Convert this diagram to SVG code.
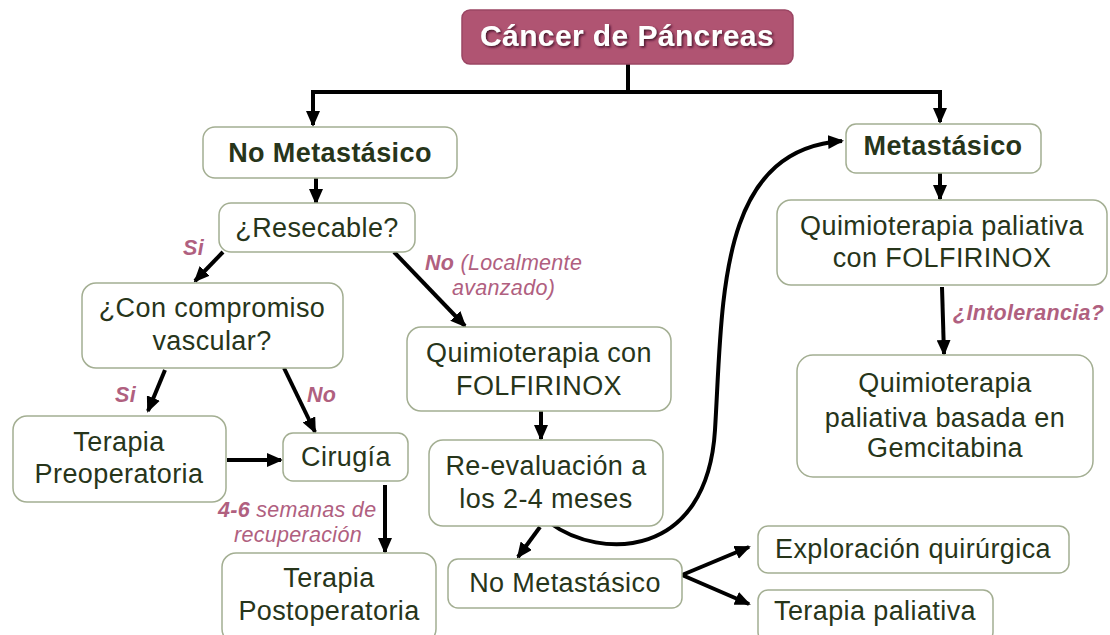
<svg xmlns="http://www.w3.org/2000/svg" width="1110" height="635" viewBox="0 0 1110 635">
<defs>
<marker id="ah" markerUnits="userSpaceOnUse" markerWidth="16" markerHeight="14" viewBox="0 0 16 14" refX="14" refY="7" orient="auto">
<path d="M0,0 L16,7 L0,14 Z" fill="#000"/>
</marker>
<filter id="sh" x="-10%" y="-20%" width="120%" height="150%">
<feDropShadow dx="1.5" dy="1.5" stdDeviation="0.8" flood-color="#3a1020" flood-opacity="0.9"/>
</filter>
<style>
.box{fill:#fff;stroke:#a3ae92;stroke-width:1.5}
.t{font-family:"Liberation Sans",Arial,sans-serif;font-size:27px;fill:#27351a;text-anchor:middle;letter-spacing:0.4px}
.b{font-weight:bold}
.lbl{font-family:"Liberation Sans",Arial,sans-serif;font-size:21.5px;fill:#b0607f;font-style:italic;letter-spacing:0.3px}
.bl{font-weight:bold}
.c{fill:none;stroke:#000;stroke-width:4}
.a{fill:none;stroke:#000;stroke-width:4;marker-end:url(#ah)}
</style>
</defs>
<rect width="1110" height="635" fill="#fff"/>

<g id="connectors">
<path class="c" d="M628,64 V92 M311,92 H942"/>
<path class="a" d="M313,92 V125"/>
<path class="a" d="M940,92 V122"/>
<path class="a" d="M316,178 V203"/>
<path class="a" d="M223,252 L195,281"/>
<path class="a" d="M394,252 L465,326"/>
<path class="a" d="M165,370 L148,411"/>
<path class="a" d="M284,368 L315,432"/>
<path class="a" d="M227,460 H281"/>
<path class="a" d="M385,485 V552"/>
<path class="a" d="M541,411 V439"/>
<path class="a" d="M540,527 L518,557"/>
<path class="a" d="M550,523 C600,560 707,560 715,430 S717,150 842,141"/>
<path class="a" d="M682,575 L749,547"/>
<path class="a" d="M682,575 L749,604"/>
<path class="a" d="M940,173 V199"/>
<path class="a" d="M942,287 L944,354"/>
</g>

<g id="labels">
<text class="lbl bl" x="183" y="255">Si</text>
<text class="lbl" x="425" y="270"><tspan class="bl">No</tspan> (Localmente</text>
<text class="lbl" x="452" y="295">avanzado)</text>
<text class="lbl bl" x="115" y="402">Si</text>
<text class="lbl bl" x="307" y="402">No</text>
<text class="lbl" x="218" y="517"><tspan class="bl">4-6</tspan> semanas de</text>
<text class="lbl" x="234" y="542">recuperación</text>
<text class="lbl bl" x="953" y="320">¿Intolerancia?</text>
</g>

<g id="n-title">
<rect x="462" y="10" width="331" height="54" rx="8" fill="#b05472" stroke="#9a4563" stroke-width="1.5"/>
<text x="627" y="46" font-family="Liberation Sans,Arial,sans-serif" font-size="30" font-weight="bold" fill="#fff" text-anchor="middle" letter-spacing="0.4" filter="url(#sh)">Cáncer de Páncreas</text>
</g>

<g id="n-nometa">
<rect class="box" x="203" y="127" width="254" height="51" rx="12"/>
<text class="t b" x="330" y="162">No Metastásico</text>
</g>

<g id="n-resecable">
<rect class="box" x="219" y="203" width="196" height="49" rx="12"/>
<text class="t" x="317" y="237">¿Resecable?</text>
</g>

<g id="n-compromiso">
<rect class="box" x="82" y="283" width="261" height="85" rx="14"/>
<text class="t" x="212" y="317">¿Con compromiso</text>
<text class="t" x="212" y="350">vascular?</text>
</g>

<g id="n-quimio">
<rect class="box" x="407" y="327" width="264" height="84" rx="14"/>
<text class="t" x="539" y="362">Quimioterapia con</text>
<text class="t" x="539" y="395">FOLFIRINOX</text>
</g>

<g id="n-preop">
<rect class="box" x="13" y="416" width="213" height="86" rx="14"/>
<text class="t" x="119" y="451">Terapia</text>
<text class="t" x="119" y="483">Preoperatoria</text>
</g>

<g id="n-cirugia">
<rect class="box" x="283" y="433" width="125" height="48" rx="10"/>
<text class="t" x="346" y="466">Cirugía</text>
</g>

<g id="n-postop">
<rect class="box" x="222" y="553" width="214" height="90" rx="14"/>
<text class="t" x="329" y="587">Terapia</text>
<text class="t" x="329" y="620">Postoperatoria</text>
</g>

<g id="n-reeval">
<rect class="box" x="429" y="440" width="234" height="86" rx="14"/>
<text class="t" x="546" y="475">Re-evaluación a</text>
<text class="t" x="546" y="508">los 2-4 meses</text>
</g>

<g id="n-nometa2">
<rect class="box" x="448" y="559" width="234" height="49" rx="10"/>
<text class="t" x="565" y="592">No Metastásico</text>
</g>

<g id="n-exploracion">
<rect class="box" x="758" y="526" width="311" height="47" rx="10"/>
<text class="t" x="913" y="558">Exploración quirúrgica</text>
</g>

<g id="n-paliativa">
<rect class="box" x="758" y="590" width="235" height="52" rx="10"/>
<text class="t" x="875" y="620">Terapia paliativa</text>
</g>

<g id="n-meta">
<rect class="box" x="846" y="124" width="195" height="49" rx="10"/>
<text class="t b" x="943" y="155">Metastásico</text>
</g>

<g id="n-quimiopal">
<rect class="box" x="777" y="200" width="330" height="85" rx="14"/>
<text class="t" x="942" y="235">Quimioterapia paliativa</text>
<text class="t" x="942" y="267">con FOLFIRINOX</text>
</g>

<g id="n-gemcitabina">
<rect class="box" x="797" y="355" width="296" height="122" rx="16"/>
<text class="t" x="945" y="392">Quimioterapia</text>
<text class="t" x="945" y="427">paliativa basada en</text>
<text class="t" x="945" y="457">Gemcitabina</text>
</g>
</svg>
